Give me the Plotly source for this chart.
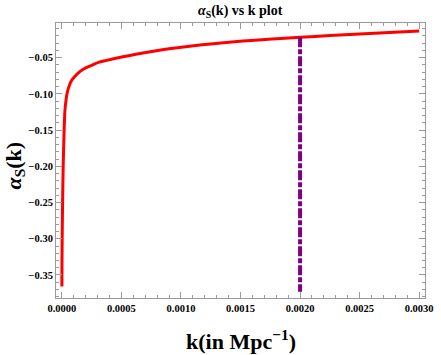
import plotly.graph_objects as go

# ── Data ─────────────────────────────────────────────────────────────────────
k_vals = [
    1e-7, 1e-6, 2.5e-6, 6e-6, 1.1e-5, 1.9e-5, 2.5e-5, 3.3e-5, 4.3e-5, 5.5e-5,
    8e-5, 1.1e-4, 1.48e-4, 2e-4, 2.57e-4, 3.07e-4, 3.67e-4, 4.63e-4, 5.6e-4,
    6.8e-4, 8.3e-4, 9.7e-4, 1.107e-3, 1.25e-3, 1.38e-3, 1.52e-3, 1.654e-3,
    1.873e-3, 2.0e-3, 2.25e-3, 2.5e-3, 2.75e-3, 3.0e-3,
]
alpha_vals = [
    -0.366, -0.33, -0.30, -0.25, -0.20, -0.15, -0.125, -0.111, -0.100, -0.092,
    -0.082, -0.0755, -0.0695, -0.064, -0.0601, -0.0565, -0.0540, -0.0505, -0.0472,
    -0.0435, -0.0394, -0.0362, -0.0334, -0.0310, -0.0289, -0.0270, -0.0254,
    -0.0230, -0.0218, -0.0195, -0.0172, -0.0151, -0.0131,
]
marker_k = [0.002, 0.002]
marker_alpha = [-0.0218, -0.373]

FONT = "Liberation Serif, Times New Roman, serif"
FRAME = "#9a9a9a"

fig = go.Figure()

fig.add_trace(go.Scatter(
    x=k_vals, y=alpha_vals,
    mode="lines",
    line=dict(color="#ff0000", width=3, shape="spline", smoothing=0.6),
    showlegend=False,
))

fig.add_trace(go.Scatter(
    x=marker_k, y=marker_alpha,
    mode="lines",
    line=dict(color="#800080", width=4, dash="10px,2px,5px,2px"),
    showlegend=False,
))

axis_common = dict(
    showline=True, linecolor=FRAME, linewidth=1, mirror="allticks",
    ticks="inside", ticklen=6, tickcolor=FRAME, tickwidth=1,
    showgrid=False, zeroline=False, ticklabeloverflow="allow",
    tickfont=dict(family=FONT, size=10.5, color="black", weight="bold"),
)

fig.update_layout(
    width=441, height=355,
    paper_bgcolor="white", plot_bgcolor="white",
    margin=dict(l=56, r=8, t=23, b=57),
    font=dict(family=FONT, color="black"),
    xaxis=dict(
        **axis_common,
        range=[-0.0000493, 0.003049],
        tickvals=[0, 0.0005, 0.001, 0.0015, 0.002, 0.0025, 0.003],
        tickformat=".4f",
        minor=dict(ticks="inside", ticklen=3, tickcolor=FRAME, dtick=0.0001, tick0=0),
    ),
    yaxis=dict(
        **axis_common,
        range=[-0.3818, -0.0021],
        tickvals=[-0.35, -0.30, -0.25, -0.20, -0.15, -0.10, -0.05],
        tickformat=".2f",
        minor=dict(ticks="inside", ticklen=3, tickcolor=FRAME, dtick=0.01, tick0=0),
    ),
    annotations=[
        dict(text="<b><i>α</i><sub>S</sub>(k) vs k plot</b>", x=0.5, y=1, xref="paper", yref="paper",
             xanchor="center", yanchor="bottom", yshift=1, showarrow=False,
             font=dict(family=FONT, size=14, color="black")),
        dict(text="<b>k(in Mpc<sup>−1</sup>)</b>", x=0.5, y=0, xref="paper", yref="paper",
             xanchor="center", yanchor="top", yshift=-26, showarrow=False,
             font=dict(family=FONT, size=22, color="black")),
        dict(text="<b><i>α</i><sub>S</sub>(k)</b>", x=0, y=0.5, xref="paper", yref="paper",
             xanchor="center", yanchor="middle", xshift=-42, yshift=-5, textangle=-90,
             showarrow=False, font=dict(family=FONT, size=22, color="black")),
    ],
)

fig.write_html("out.html", config={"displayModeBar": False},
               post_script="document.body.style.margin='0';")
